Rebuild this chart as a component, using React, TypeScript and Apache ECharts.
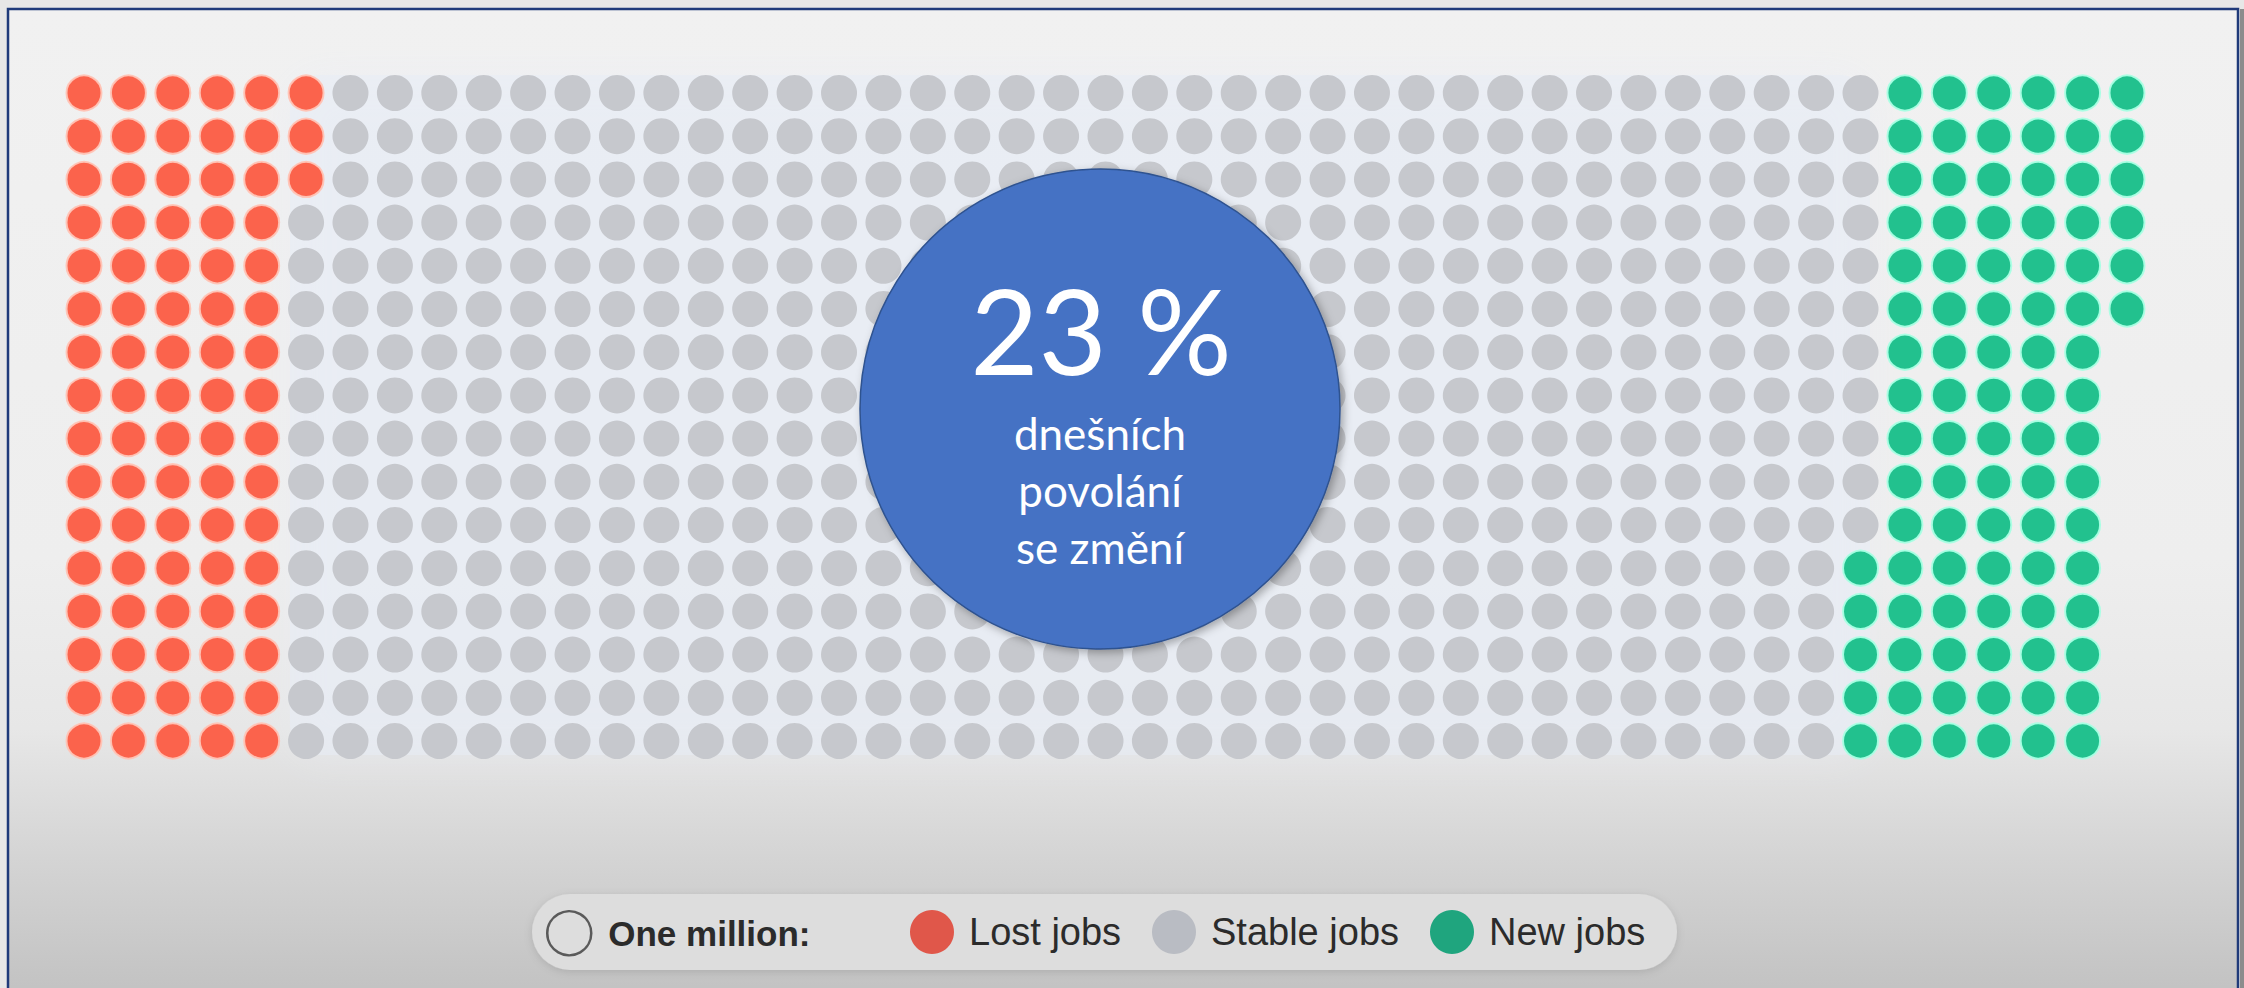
import React, { useEffect, useRef } from "react";
import * as echarts from "echarts";

// Each dot = one million jobs; 16 rows x 47 columns
const columnCount = 47;
const lostJobsPerRow = [6, 6, 6, 5, 5, 5, 5, 5, 5, 5, 5, 5, 5, 5, 5, 5];
const newJobsPerRow = [6, 6, 6, 6, 6, 6, 5, 5, 5, 5, 5, 6, 6, 6, 6, 6];
const emptyAtRowEnd = [0, 0, 0, 0, 0, 0, 1, 1, 1, 1, 1, 1, 1, 1, 1, 1];

const legendNames = ["One million:", "Lost jobs", "Stable jobs", "New jobs"];
const headline = "23 %";
const subLines = ["dnešních", "povolání", "se změní"];

function buildSeriesData() {
  const lost: number[][] = [];
  const stable: number[][] = [];
  const added: number[][] = [];
  lostJobsPerRow.forEach((lostCount, row) => {
    const newCount = newJobsPerRow[row];
    const stableCount = columnCount - lostCount - newCount - emptyAtRowEnd[row];
    let col = 0;
    for (let i = 0; i < lostCount; i++) lost.push([col++, row]);
    for (let i = 0; i < stableCount; i++) stable.push([col++, row]);
    for (let i = 0; i < newCount; i++) added.push([col++, row]);
  });
  return { lost, stable, added };
}

export default function App() {
  const ref = useRef<HTMLDivElement>(null);
  useEffect(() => {
    document.body.style.margin = "0";
    if (!ref.current) return;
    const chart = echarts.init(ref.current, undefined, { renderer: "svg" });
    const { lost, stable, added } = buildSeriesData();
    const legendText = { color: "#2b2b2b", fontSize: 38, fontFamily: "Liberation Sans, Arial, sans-serif", padding: [0, 0, 0, 10] };
    const legendBase = { top: 910, padding: 0, itemWidth: 44, itemHeight: 44, icon: "circle", selectedMode: false, z: 6 };
    chart.setOption({
      animation: false,
      backgroundColor: "#e7e7e7",
      tooltip: { show: false },
      grid: { left: 84, right: 117, top: 93, bottom: 247, containLabel: false },
      xAxis: { type: "value", min: 0, max: columnCount - 1, show: false },
      yAxis: { type: "value", min: 0, max: lostJobsPerRow.length - 1, inverse: true, show: false },
      legend: [
        { ...legendBase, left: 546, data: [{ name: legendNames[0], itemStyle: { color: "rgba(0,0,0,0)", borderColor: "#3a3a3a", borderWidth: 2.5 } }], textStyle: { ...legendText, fontSize: 35, fontWeight: "bold", padding: [0, 0, 0, 12] } },
        { ...legendBase, left: 910, data: [{ name: legendNames[1], itemStyle: { color: "#e0574a", borderWidth: 0 } }], textStyle: legendText },
        { ...legendBase, left: 1152, data: [{ name: legendNames[2], itemStyle: { color: "#b9bcc3", borderWidth: 0 } }], textStyle: legendText },
        { ...legendBase, left: 1430, data: [{ name: legendNames[3], itemStyle: { color: "#1fa57e", borderWidth: 0 } }], textStyle: legendText },
      ],
      graphic: [
        {
          type: "rect", z: -10, silent: true,
          shape: { x: 8, y: 9, width: 2230, height: 1000 },
          style: {
            fill: new echarts.graphic.LinearGradient(0, 0, 0, 1, [
              { offset: 0, color: "#f1f1f1" },
              { offset: 0.55, color: "#eeeeee" },
              { offset: 0.72, color: "#e7e7e7" },
              { offset: 0.85, color: "#d4d4d4" },
              { offset: 1, color: "#c0c0c0" },
            ]),
            stroke: "#1f3a7a", lineWidth: 2.5,
          },
        },
        { type: "rect", z: -10, silent: true, shape: { x: 2240, y: 9, width: 6, height: 990 }, style: { fill: "#8c8c8c" } },
        {
          type: "rect", z: -9, silent: true,
          shape: { x: 290, y: 75, width: 1580, height: 680, r: 30 },
          style: { fill: "rgba(232,236,245,0.55)", shadowBlur: 40, shadowColor: "rgba(232,236,245,0.8)" },
        },
        {
          type: "rect", z: -5, silent: true,
          shape: { x: 532, y: 894, width: 1145, height: 76, r: 38 },
          style: { fill: "#dddddd", shadowBlur: 8, shadowColor: "rgba(0,0,0,0.12)", shadowOffsetY: 2 },
        },
        {
          type: "circle", z: 20, silent: true,
          shape: { cx: 1100, cy: 409, r: 240 },
          style: { fill: "#4472c4", stroke: "#2f528f", lineWidth: 1.5, shadowBlur: 8, shadowColor: "rgba(0,0,0,0.3)", shadowOffsetX: 3, shadowOffsetY: 3 },
        },
        {
          type: "text", z: 21, silent: true, x: 1101, y: 329,
          style: { text: headline, fill: "#ffffff", fontSize: 118, fontFamily: "Lato, 'Open Sans', sans-serif", align: "center", verticalAlign: "middle" },
        },
        ...subLines.map((t, i) => ({
          type: "text", z: 21, silent: true, x: 1100, y: 433 + i * 57,
          style: { text: t, fill: "#ffffff", fontSize: 44, fontFamily: "Lato, 'Open Sans', sans-serif", align: "center", verticalAlign: "middle" },
        })),
      ],
      series: [
        {
          name: legendNames[0], type: "scatter", data: [], symbol: "circle",
          itemStyle: { color: "rgba(0,0,0,0)", borderColor: "#3a3a3a", borderWidth: 2.5 },
        },
        {
          name: legendNames[1], type: "scatter", data: lost, symbol: "circle", symbolSize: 35,
          itemStyle: { color: "#fb634c", borderColor: "rgba(255,196,182,0.95)", borderWidth: 2, opacity: 1 },
        },
        {
          name: legendNames[2], type: "scatter", data: stable, symbol: "circle", symbolSize: 36,
          itemStyle: { color: "#c6c8cd", opacity: 1 },
        },
        {
          name: legendNames[3], type: "scatter", data: added, symbol: "circle", symbolSize: 35,
          itemStyle: { color: "#22c18e", borderColor: "rgba(170,255,228,0.95)", borderWidth: 2, opacity: 1 },
        },
      ],
    });
    return () => chart.dispose();
  }, []);
  return <div ref={ref} style={{ width: 2244, height: 988 }} />;
}
